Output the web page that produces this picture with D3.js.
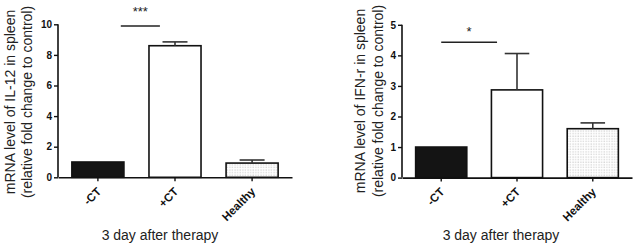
<!DOCTYPE html>
<html>
<head>
<meta charset="utf-8">
<script src="https://cdn.jsdelivr.net/npm/d3@7/dist/d3.min.js"></script>
<style>
  html, body { margin: 0; padding: 0; background: #fff; }
  svg { display: block; }
  text { font-family: "Liberation Sans", Arial, sans-serif; }
</style>
</head>
<body>
<svg id="chart" width="634" height="246"></svg>
<script>
// ---- data ----
const categories = ["-CT", "+CT", "Healthy"];
const il12Means = [1.0, 8.6, 0.93];
const il12Errors = [0, 0.25, 0.2];
const il12Ticks = [0, 2, 4, 6, 8, 10];
const ifnMeans = [1.0, 2.87, 1.6];
const ifnErrors = [0, 1.19, 0.19];
const ifnTicks = [0, 1, 2, 3, 4, 5];
const il12Sig = ["***", 9.89];
const ifnSig = ["*", 4.43];
const xTitle = "3 day after therapy";
const il12Label = ["mRNA level of IL-12 in spleen", "(relative fold change to control)"];
const ifnLabel = ["mRNA level of IFN-r in spleen", "(relative fold change to control)"];

const svg = d3.select("#chart");
const defs = svg.append("defs");
const pat = defs.append("pattern").attr("id", "dots")
  .attr("patternUnits", "userSpaceOnUse").attr("width", 2.6).attr("height", 2.6);
pat.append("rect").attr("width", 2.6).attr("height", 2.6).attr("fill", "#fff");
pat.append("rect").attr("x", 0.5).attr("y", 0.5).attr("width", 1).attr("height", 1).attr("fill", "#b8b8b8");

const fills = ["#141414", "#ffffff", "url(#dots)"];

function drawChart(cfg) {
  const g = svg.append("g");
  const x = d3.scaleBand().domain(categories)
    .range([cfg.x0, cfg.x1]).paddingInner(0.325).paddingOuter(0.18);
  const y = d3.scaleLinear().domain([0, cfg.ticks[cfg.ticks.length - 1]])
    .range([cfg.yBottom, cfg.yTop]);
  const bw = x.bandwidth();

  // bars
  g.selectAll("rect.bar").data(categories).join("rect")
    .attr("class", "bar")
    .attr("x", d => x(d))
    .attr("width", bw)
    .attr("y", (d, i) => y(cfg.means[i]))
    .attr("height", (d, i) => y(0) - y(cfg.means[i]))
    .attr("fill", (d, i) => fills[i])
    .attr("stroke", "#111").attr("stroke-width", 1.6);

  // error bars (upper only)
  const eb = categories.map((c, i) => ({ c, m: cfg.means[i], e: cfg.errors[i] })).filter(d => d.e > 0);
  g.selectAll("line.err").data(eb).join("line")
    .attr("x1", d => x(d.c) + bw / 2).attr("x2", d => x(d.c) + bw / 2)
    .attr("y1", d => y(d.m)).attr("y2", d => y(d.m + d.e))
    .attr("stroke", "#333").attr("stroke-width", 1.6);
  g.selectAll("line.cap").data(eb).join("line")
    .attr("x1", d => x(d.c) + bw * 0.26).attr("x2", d => x(d.c) + bw * 0.74)
    .attr("y1", d => y(d.m + d.e)).attr("y2", d => y(d.m + d.e))
    .attr("stroke", "#333").attr("stroke-width", 1.6);

  // y axis
  const ya = g.append("g").attr("transform", `translate(${cfg.x0},0)`)
    .call(d3.axisLeft(y).tickValues(cfg.ticks).tickSize(4).tickPadding(2).tickFormat(d3.format("d")));
  ya.select(".domain").attr("stroke", "#111").attr("stroke-width", 1.6).attr("d", `M0,${y(0)}V${cfg.yTop}`);
  ya.selectAll(".tick line").attr("stroke", "#111").attr("stroke-width", 1.4);
  ya.selectAll(".tick text").attr("font-size", 10).attr("font-weight", "bold").attr("fill", "#111")
    .style("font-family", "'Liberation Sans', Arial, sans-serif");

  // x axis
  const xa = g.append("g").attr("transform", `translate(0,${y(0)})`)
    .call(d3.axisBottom(x).tickSize(4).tickSizeOuter(0));
  xa.select(".domain").attr("stroke", "#111").attr("stroke-width", 1.6);
  xa.selectAll(".tick line").attr("stroke", "#111").attr("stroke-width", 1.4);
  xa.selectAll(".tick text")
    .attr("font-size", 11.5).attr("font-weight", "bold").attr("fill", "#111")
    .style("font-family", "'Liberation Sans', Arial, sans-serif")
    .attr("text-anchor", "end")
    .attr("x", 0).attr("y", 0).attr("dy", 0)
    .attr("transform", "translate(4,15) rotate(-45)");

  // significance
  const sx1 = x(categories[0]) + bw * cfg.sigA;
  const sx2 = x(categories[1]) + bw * cfg.sigB;
  const sy = y(cfg.sig[1]);
  g.append("line").attr("x1", sx1).attr("x2", sx2).attr("y1", sy).attr("y2", sy)
    .attr("stroke", "#222").attr("stroke-width", 1.5);
  g.append("text").attr("x", (sx1 + sx2) / 2).attr("y", cfg.starY)
    .attr("text-anchor", "middle").attr("font-size", 13).attr("fill", "#222")
    .text(cfg.sig[0]);

  // y label
  const lab = g.append("g").attr("transform", `translate(0,${cfg.labelCy}) rotate(-90)`);
  lab.append("text").attr("x", 0).attr("y", cfg.labelX[0]).attr("text-anchor", "middle")
    .attr("font-size", 14).attr("fill", "#222").text(cfg.label[0]);
  lab.append("text").attr("x", 0).attr("y", cfg.labelX[1]).attr("text-anchor", "middle")
    .attr("font-size", 14).attr("fill", "#222").text(cfg.label[1]);

  // x title
  g.append("text").attr("x", cfg.titleX).attr("y", 240).attr("text-anchor", "middle")
    .attr("font-size", 14).attr("fill", "#222").text(xTitle);
}

drawChart({
  x0: 58, x1: 292, yTop: 24.3, yBottom: 177.3,
  means: il12Means, errors: il12Errors, ticks: il12Ticks,
  sig: il12Sig, sigA: 0.94, sigB: 0.21, starY: 16,
  label: il12Label, labelX: [15, 32], labelCy: 102, titleX: 160
});
drawChart({
  x0: 402, x1: 632, yTop: 24.8, yBottom: 177.6,
  means: ifnMeans, errors: ifnErrors, ticks: ifnTicks,
  sig: ifnSig, sigA: 0.5, sigB: 0.11, starY: 35.5,
  label: ifnLabel, labelX: [365, 383], labelCy: 101, titleX: 501
});
</script>
</body>
</html>
